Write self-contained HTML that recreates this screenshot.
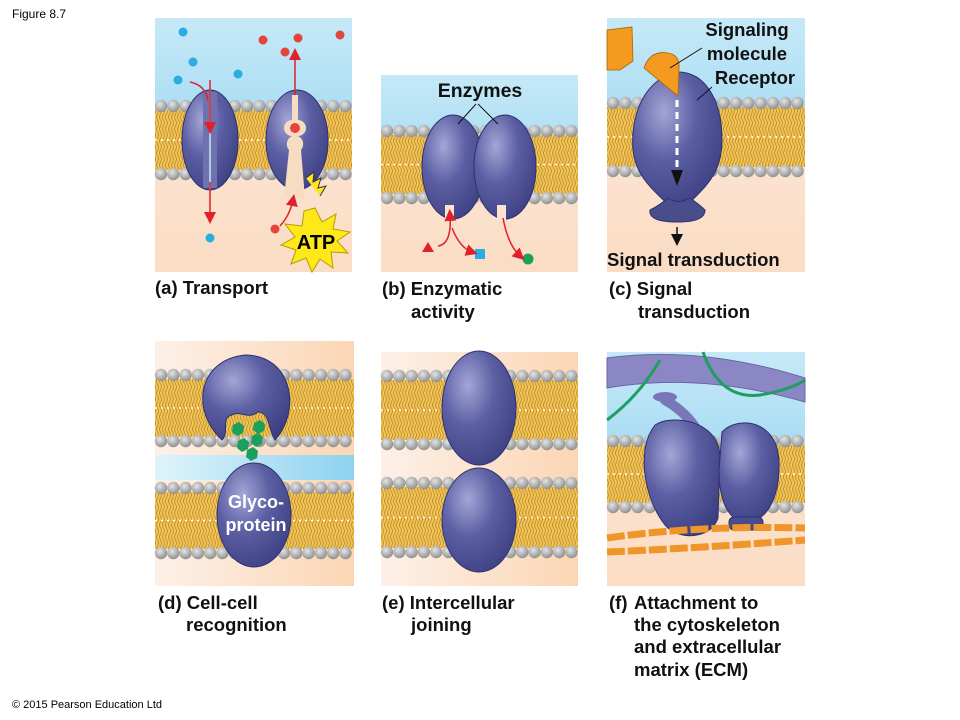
<!DOCTYPE html>
<html><head><meta charset="utf-8"><style>
body{margin:0;background:#fff;width:960px;height:720px;overflow:hidden}
svg{display:block}
text{font-family:"Liberation Sans",Arial,sans-serif}
.lb{font-weight:bold;font-size:18.5px;fill:#111}
</style></head><body>
<svg id="s" width="960" height="720" viewBox="0 0 960 720" xmlns="http://www.w3.org/2000/svg">
<defs>
<linearGradient id="bp" x1="0" y1="0" x2="0" y2="1">
<stop offset="0" stop-color="#c6e9f8"/><stop offset="0.45" stop-color="#a6dbf2"/><stop offset="0.55" stop-color="#fbe3d0"/><stop offset="1" stop-color="#fbdcc4"/></linearGradient>
<linearGradient id="pe" x1="0" y1="0" x2="1" y2="0">
<stop offset="0" stop-color="#fdf0e8"/><stop offset="1" stop-color="#fbd6b4"/></linearGradient>
<linearGradient id="bl" x1="0" y1="0" x2="1" y2="0">
<stop offset="0" stop-color="#dff3fb"/><stop offset="1" stop-color="#8ed2f0"/></linearGradient>
<radialGradient id="pr" cx="0.35" cy="0.3" r="0.8">
<stop offset="0" stop-color="#a3a6d6"/><stop offset="0.45" stop-color="#5c5fa3"/><stop offset="1" stop-color="#3b3e80"/></radialGradient>
<radialGradient id="hd" cx="0.4" cy="0.35" r="0.7">
<stop offset="0" stop-color="#e4e4e4"/><stop offset="1" stop-color="#8a8a8a"/></radialGradient>
<pattern id="tl" width="6" height="12" patternUnits="userSpaceOnUse">
<rect width="6" height="12" fill="#f2c457"/>
<path d="M1.5 0 q2 3 0 6 q-2 3 0 6 M4.5 0 q2 3 0 6 q-2 3 0 6" stroke="#b98a25" stroke-width="0.8" fill="none"/></pattern>
<marker id="ar" markerWidth="8" markerHeight="8" refX="4" refY="4" orient="auto"><path d="M0 0 L8 4 L0 8z" fill="#e0202a"/></marker>
<marker id="ak" markerWidth="8" markerHeight="8" refX="4" refY="4" orient="auto"><path d="M0 0 L8 4 L0 8z" fill="#111"/></marker>
</defs>
<text x="12" y="18" font-size="12">Figure 8.7</text>
<text x="12" y="708" font-size="11">© 2015 Pearson Education Ltd</text>
<rect x="155" y="18" width="197" height="254" fill="url(#bp)"/>
<rect x="381" y="75" width="197" height="197" fill="url(#bp)"/>
<rect x="607" y="18" width="198" height="254" fill="url(#bp)"/>
<rect x="155" y="341" width="199" height="245" fill="url(#pe)"/>
<rect x="155" y="455" width="199" height="25" fill="url(#bl)"/>
<rect x="381" y="352" width="197" height="234" fill="url(#pe)"/>
<rect x="607" y="352" width="198" height="234" fill="url(#bp)"/>
<g id="mem"></g>
<g id="top">
<!-- (a) -->
<ellipse cx="210" cy="140" rx="28" ry="50" fill="url(#pr)" stroke="#2e3170" stroke-width="1"/>
<rect x="203" y="92" width="14" height="96" fill="#7072b0"/>
<line x1="210" y1="90" x2="210" y2="190" stroke="#c6e9f8" stroke-width="1.5"/>
<ellipse cx="297" cy="140" rx="31" ry="50" fill="url(#pr)" stroke="#2e3170"/>
<path d="M292 95 L292 120 A8 8 0 0 0 292 136 A9 9 0 0 0 289 150 L284 198 L305 198 L301 150 A9 9 0 0 0 298 136 A8 8 0 0 0 298 120 L298 95z" fill="#f6dcc0"/>
<circle cx="295" cy="128" r="5" fill="#e2453b"/>
<line x1="210" y1="80" x2="210" y2="128" stroke="#e0202a" stroke-width="1.5" marker-end="url(#ar)"/>
<line x1="210" y1="182" x2="210" y2="218" stroke="#e0202a" stroke-width="1.5" marker-end="url(#ar)"/>
<path d="M190 82 Q205 85 208 100" stroke="#e0202a" stroke-width="1.5" fill="none"/>
<line x1="295" y1="95" x2="295" y2="54" stroke="#e0202a" stroke-width="1.5" marker-end="url(#ar)"/>
<path d="M280 226 Q290 215 293 200" stroke="#e0202a" stroke-width="1.5" fill="none" marker-end="url(#ar)"/>
<path d="M306 178 l8 -6 l-1 10 l8 -4 l-3 10 l8 -2 l-6 10" stroke="#333" stroke-width="1" fill="#ffe61e"/>
<polygon points="315,208 322,222 336,214 333,229 350,232 337,241 348,253 331,252 333,268 320,259 312,272 306,258 291,264 296,250 281,245 295,237 285,224 302,226 304,211" fill="#ffe81a" stroke="#b0a000"/>
<text x="316" y="249" text-anchor="middle" font-weight="bold" font-size="20">ATP</text>
<g fill="#29aee3"><circle cx="183" cy="32" r="4.5"/><circle cx="193" cy="62" r="4.5"/><circle cx="178" cy="80" r="4.5"/><circle cx="238" cy="74" r="4.5"/><circle cx="210" cy="238" r="4.5"/></g>
<g fill="#e2453b"><circle cx="263" cy="40" r="4.5"/><circle cx="285" cy="52" r="4.5"/><circle cx="298" cy="38" r="4.5"/><circle cx="340" cy="35" r="4.5"/><circle cx="275" cy="229" r="4.5"/></g>
<!-- (b) -->
<ellipse cx="453" cy="167" rx="31" ry="52" fill="url(#pr)" stroke="#2e3170"/>
<ellipse cx="505" cy="167" rx="31" ry="52" fill="url(#pr)" stroke="#2e3170"/>
<rect x="445" y="205" width="9" height="16" fill="#fbe3d0"/><rect x="497" y="205" width="9" height="16" fill="#fbe3d0"/>
<text x="480" y="97" text-anchor="middle" class="lb" style="font-size:19.5px">Enzymes</text>
<line x1="476" y1="104" x2="458" y2="124" stroke="#111"/><line x1="478" y1="104" x2="498" y2="124" stroke="#111"/>
<polygon points="428,242 434,252 422,252" fill="#e0202a"/>
<rect x="475" y="249" width="10" height="10" fill="#29aee3"/>
<circle cx="528" cy="259" r="5.5" fill="#1aa05a"/>
<path d="M438 246 Q452 244 450 215" stroke="#e0202a" stroke-width="1.5" fill="none" marker-end="url(#ar)"/>
<path d="M452 228 Q460 248 472 252" stroke="#e0202a" stroke-width="1.5" fill="none" marker-end="url(#ar)"/>
<path d="M503 218 Q508 245 520 256" stroke="#e0202a" stroke-width="1.5" fill="none" marker-end="url(#ar)"/>
<!-- (c) -->
<path d="M678 72 C645 78 630 115 633 150 C636 180 660 195 668 205 L688 205 C700 190 722 178 722 140 C722 100 705 72 678 72z" fill="url(#pr)" stroke="#2e3170"/>
<path d="M650 210 Q660 205 668 198 Q678 205 690 198 Q700 205 705 210 Q705 222 678 222 Q648 222 650 210z" fill="#4a4d8c" stroke="#2e3170"/>
<line x1="677" y1="100" x2="677" y2="175" stroke="#fff" stroke-width="3" stroke-dasharray="7 5"/>
<path d="M671 170 L683 170 L677 186z" fill="#111"/>
<line x1="677" y1="227" x2="677" y2="240" stroke="#111" stroke-width="1.5" marker-end="url(#ak)"/>
<polygon points="607,30 632,27 633,61 620,70 607,70" fill="#f39a1f" stroke="#a86400" stroke-width="0.8"/>
<path d="M644 68 Q650 50 668 53 Q680 55 679 68 L678 96 Z" fill="#f39a1f" stroke="#a86400" stroke-width="0.8"/>
<line x1="670" y1="68" x2="702" y2="48" stroke="#111"/>
<line x1="697" y1="100" x2="712" y2="87" stroke="#111"/>
<text x="747" y="36" text-anchor="middle" class="lb">Signaling</text>
<text x="747" y="60" text-anchor="middle" class="lb">molecule</text>
<text x="755" y="84" text-anchor="middle" class="lb">Receptor</text>
<text x="607" y="266" class="lb">Signal transduction</text>
<!-- (d) -->
<path d="M222 440 C190 410 198 360 245 355 C292 355 302 410 275 440 C268 430 270 412 258 412 C248 420 240 410 232 415 C220 418 230 432 222 440z" fill="url(#pr)" stroke="#2e3170"/>
<g fill="#1aa05a">
<polygon points="233,425 239,422 244,426 243,433 237,436 232,432"/>
<polygon points="254,423 260,420 265,424 264,431 258,434 253,430"/>
<polygon points="238,441 244,438 249,442 248,449 242,452 237,448"/>
<polygon points="252,436 258,433 263,437 262,444 256,447 251,443"/>
<polygon points="247,450 253,447 258,451 257,458 251,461 246,457"/></g>
<ellipse cx="254" cy="515" rx="37" ry="52" fill="url(#pr)" stroke="#2e3170"/>
<text x="256" y="508" text-anchor="middle" font-weight="bold" font-size="18" fill="#fff">Glyco-</text>
<text x="256" y="531" text-anchor="middle" font-weight="bold" font-size="18" fill="#fff">protein</text>
<!-- (e) -->
<ellipse cx="479" cy="408" rx="37" ry="57" fill="url(#pr)" stroke="#2e3170"/>
<ellipse cx="479" cy="520" rx="37" ry="52" fill="url(#pr)" stroke="#2e3170"/>
<!-- (f) -->
<path d="M607 358 Q700 345 805 378 L805 402 Q700 372 607 388z" fill="#8a87c4" stroke="#6a67a8"/>
<path d="M607 420 Q640 395 660 360 M703 352 Q720 400 760 395 Q790 390 805 380" stroke="#1f9e60" stroke-width="3" fill="none"/>
<path d="M665 400 Q700 420 708 458" stroke="#7a77b8" stroke-width="10" fill="none" stroke-linecap="round"/>
<ellipse cx="665" cy="397" rx="12" ry="5" fill="#7a77b8"/>
<path d="M655 425 C635 450 645 500 665 525 C680 542 712 538 718 518 L720 455 C718 430 695 420 675 420 C665 420 660 422 655 425z" fill="url(#pr)" stroke="#2e3170"/>
<path d="M722 432 C738 415 778 420 779 462 C780 500 765 522 747 522 C728 522 719 500 719 470z" fill="url(#pr)" stroke="#2e3170"/>
<rect x="729" y="517" width="34" height="13" rx="5" fill="#4a4d8c" stroke="#2e3170"/>
<path d="M607 538 Q700 525 805 528 M607 552 Q700 548 805 540" stroke="#f0952a" stroke-width="7" fill="none" stroke-dasharray="18 3"/>
<!-- labels -->
<text x="155" y="294" class="lb">(a) Transport</text>
<text x="382" y="295" class="lb">(b) Enzymatic</text><text x="411" y="318" class="lb">activity</text>
<text x="609" y="295" class="lb">(c) Signal</text><text x="638" y="318" class="lb">transduction</text>
<text x="158" y="609" class="lb">(d) Cell-cell</text><text x="186" y="631" class="lb">recognition</text>
<text x="382" y="609" class="lb">(e) Intercellular</text><text x="411" y="631" class="lb">joining</text>
<text x="609" y="609" class="lb">(f)</text>
<text x="634" y="609" class="lb">Attachment to</text>
<text x="634" y="631" class="lb">the cytoskeleton</text>
<text x="634" y="653" class="lb">and extracellular</text>
<text x="634" y="676" class="lb">matrix (ECM)</text>
</g>
</svg>
<script>
var ns="http://www.w3.org/2000/svg",g=document.getElementById("mem");
function el(t,a){var e=document.createElementNS(ns,t);for(var k in a)e.setAttribute(k,a[k]);g.appendChild(e);}
function mem(x0,w,y1,y2){
 el("rect",{x:x0,y:y1+4,width:w,height:y2-y1-8,fill:"url(#tl)"});
 el("line",{x1:x0,x2:x0+w,y1:(y1+y2)/2,y2:(y1+y2)/2,stroke:"#fff","stroke-width":1.5,"stroke-dasharray":"2 4"});
 for(var x=x0+6;x<x0+w;x+=12.3){el("circle",{cx:x,cy:y1,r:6.2,fill:"url(#hd)"});el("circle",{cx:x,cy:y2,r:6.2,fill:"url(#hd)"});}
}
mem(155,197,106,174);mem(381,197,131,198);mem(607,198,103,171);
mem(155,199,375,441);mem(155,199,488,553);
mem(381,197,376,444);mem(381,197,483,552);mem(607,198,441,507);
</script>
</body></html>
